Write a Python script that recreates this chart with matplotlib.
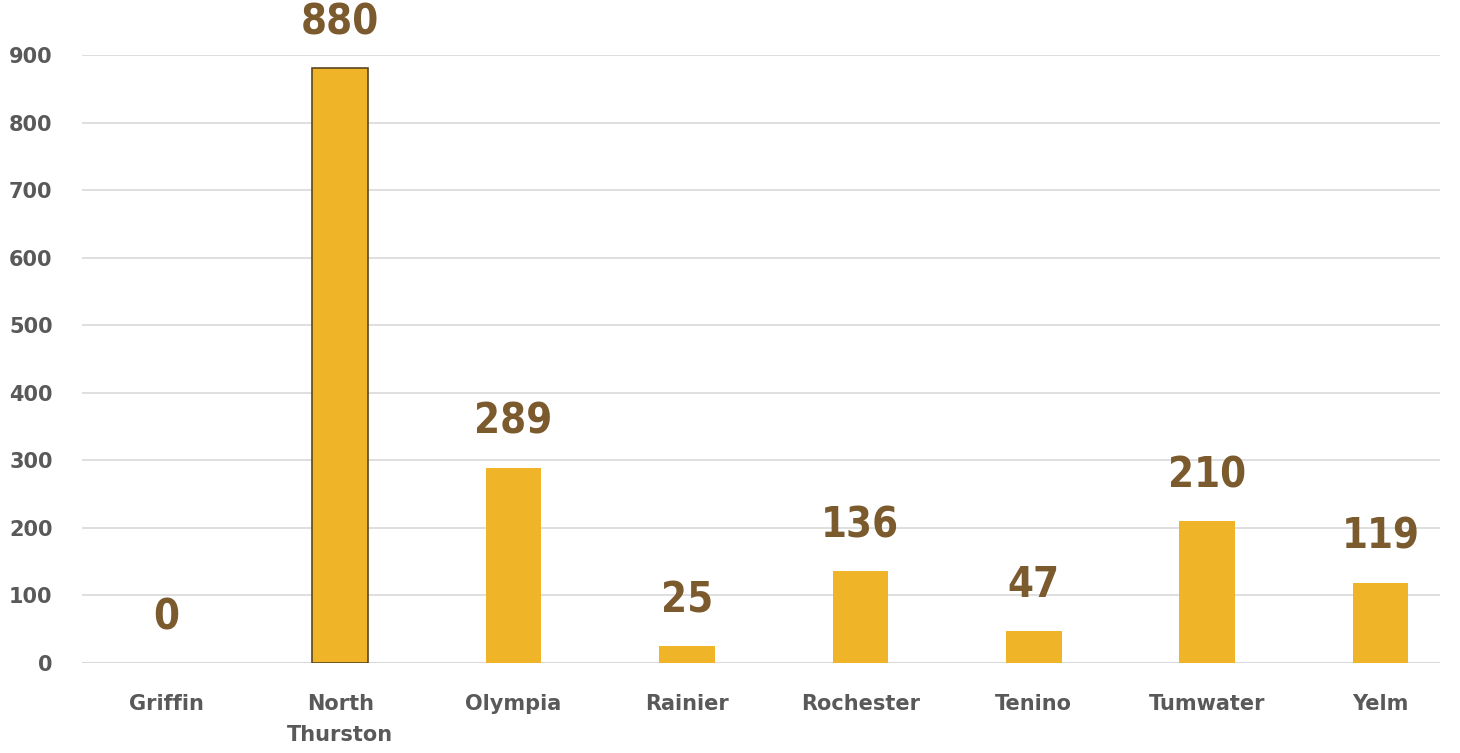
import numpy as np
import matplotlib.pyplot as plt

districts = ['Griffin', 'North\nThurston', 'Olympia', 'Rainier', 'Rochester',
             'Tenino', 'Tumwater', 'Yelm']
counts = [0, 880, 289, 25, 136, 47, 210, 119]
yticks = np.arange(0, 1000, 100)

bar_color = '#F0B429'
label_color = '#7B5A2E'
tick_color = '#595959'

fig = plt.figure(figsize=(14.6, 7.53), dpi=100)
ax = fig.add_axes([0.056, 0.1195, 0.93, 0.8075])

x = np.arange(len(districts))
bars = ax.bar(x, counts, width=0.32, color=bar_color, zorder=3)
# the tallest bar has a dark outline in the original
bars[1].set_edgecolor('#5a4520')
bars[1].set_linewidth(1.2)

for xi, v in zip(x, counts):
    ax.annotate(str(v), (xi, v), xytext=(0, 18), textcoords='offset points',
                ha='center', va='bottom', fontsize=30, fontweight='bold',
                fontstretch='condensed', color=label_color,
                family='DejaVu Sans', annotation_clip=False)

ax.set_xlim(-0.49, 7.34)
ax.set_ylim(0, 900)
ax.set_yticks(yticks)
ax.set_xticks(x)
ax.set_xticklabels(districts, fontsize=15, fontweight='bold', color=tick_color,
                   family='DejaVu Sans', linespacing=1.7)
ax.tick_params(axis='y', labelsize=15, labelcolor=tick_color, length=0, pad=21)
ax.tick_params(axis='x', length=0, pad=22)
for lab in ax.get_yticklabels():
    lab.set_fontweight('bold')
ax.grid(axis='y', color='#d9d9d9', linewidth=1.2, zorder=0)
for s in ax.spines.values():
    s.set_visible(False)
ax.axhline(0, color='#d9d9d9', linewidth=1.5, zorder=2)

fig.savefig('out.png', dpi=100)
